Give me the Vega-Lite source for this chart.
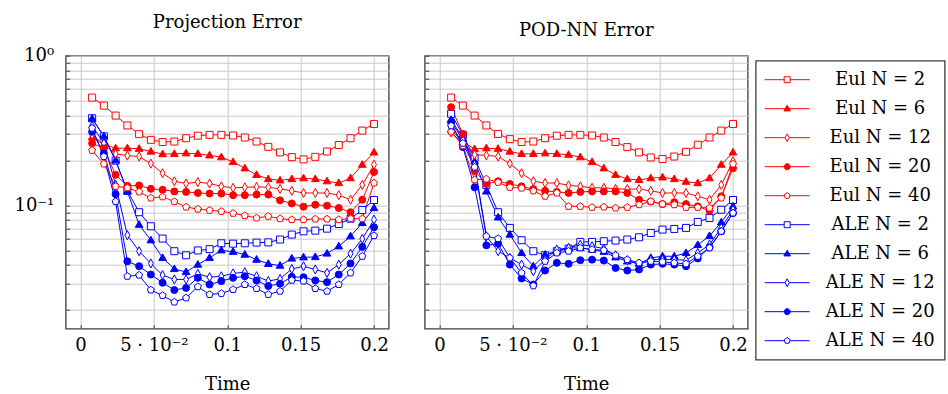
{
"$schema": "https://vega.github.io/schema/vega-lite/v6.json",
"padding": {"left": 12.7, "top": 12.7, "right": 0, "bottom": 0},
"datasets": {
"proj": [
{"series":"Eul N = 2","time":0.008,"error":0.525},{"series":"Eul N = 2","time":0.016,"error":0.464},{"series":"Eul N = 2","time":0.024,"error":0.398},{"series":"Eul N = 2","time":0.032,"error":0.342},{"series":"Eul N = 2","time":0.04,"error":0.299},{"series":"Eul N = 2","time":0.048,"error":0.274},{"series":"Eul N = 2","time":0.056,"error":0.265},{"series":"Eul N = 2","time":0.064,"error":0.267},{"series":"Eul N = 2","time":0.072,"error":0.281},{"series":"Eul N = 2","time":0.08,"error":0.292},{"series":"Eul N = 2","time":0.088,"error":0.296},{"series":"Eul N = 2","time":0.096,"error":0.296},{"series":"Eul N = 2","time":0.104,"error":0.293},{"series":"Eul N = 2","time":0.112,"error":0.284},{"series":"Eul N = 2","time":0.12,"error":0.267},{"series":"Eul N = 2","time":0.128,"error":0.246},{"series":"Eul N = 2","time":0.136,"error":0.226},{"series":"Eul N = 2","time":0.144,"error":0.21},{"series":"Eul N = 2","time":0.152,"error":0.203},{"series":"Eul N = 2","time":0.16,"error":0.211},{"series":"Eul N = 2","time":0.168,"error":0.229},{"series":"Eul N = 2","time":0.176,"error":0.253},{"series":"Eul N = 2","time":0.184,"error":0.281},{"series":"Eul N = 2","time":0.192,"error":0.316},{"series":"Eul N = 2","time":0.2,"error":0.35},
{"series":"Eul N = 6","time":0.008,"error":0.285},{"series":"Eul N = 6","time":0.016,"error":0.255},{"series":"Eul N = 6","time":0.024,"error":0.241},{"series":"Eul N = 6","time":0.032,"error":0.241},{"series":"Eul N = 6","time":0.04,"error":0.239},{"series":"Eul N = 6","time":0.048,"error":0.229},{"series":"Eul N = 6","time":0.056,"error":0.22},{"series":"Eul N = 6","time":0.064,"error":0.221},{"series":"Eul N = 6","time":0.072,"error":0.223},{"series":"Eul N = 6","time":0.08,"error":0.221},{"series":"Eul N = 6","time":0.088,"error":0.216},{"series":"Eul N = 6","time":0.096,"error":0.21},{"series":"Eul N = 6","time":0.104,"error":0.195},{"series":"Eul N = 6","time":0.112,"error":0.177},{"series":"Eul N = 6","time":0.12,"error":0.16},{"series":"Eul N = 6","time":0.128,"error":0.15},{"series":"Eul N = 6","time":0.136,"error":0.147},{"series":"Eul N = 6","time":0.144,"error":0.15},{"series":"Eul N = 6","time":0.152,"error":0.152},{"series":"Eul N = 6","time":0.16,"error":0.15},{"series":"Eul N = 6","time":0.168,"error":0.145},{"series":"Eul N = 6","time":0.176,"error":0.141},{"series":"Eul N = 6","time":0.184,"error":0.152},{"series":"Eul N = 6","time":0.192,"error":0.187},{"series":"Eul N = 6","time":0.2,"error":0.226},
{"series":"Eul N = 12","time":0.008,"error":0.296},{"series":"Eul N = 12","time":0.016,"error":0.255},{"series":"Eul N = 12","time":0.024,"error":0.221},{"series":"Eul N = 12","time":0.032,"error":0.215},{"series":"Eul N = 12","time":0.04,"error":0.212},{"series":"Eul N = 12","time":0.048,"error":0.19},{"series":"Eul N = 12","time":0.056,"error":0.164},{"series":"Eul N = 12","time":0.064,"error":0.145},{"series":"Eul N = 12","time":0.072,"error":0.14},{"series":"Eul N = 12","time":0.08,"error":0.143},{"series":"Eul N = 12","time":0.088,"error":0.14},{"series":"Eul N = 12","time":0.096,"error":0.134},{"series":"Eul N = 12","time":0.104,"error":0.131},{"series":"Eul N = 12","time":0.112,"error":0.132},{"series":"Eul N = 12","time":0.12,"error":0.133},{"series":"Eul N = 12","time":0.128,"error":0.132},{"series":"Eul N = 12","time":0.136,"error":0.129},{"series":"Eul N = 12","time":0.144,"error":0.125},{"series":"Eul N = 12","time":0.152,"error":0.121},{"series":"Eul N = 12","time":0.16,"error":0.121},{"series":"Eul N = 12","time":0.168,"error":0.121},{"series":"Eul N = 12","time":0.176,"error":0.117},{"series":"Eul N = 12","time":0.184,"error":0.109},{"series":"Eul N = 12","time":0.192,"error":0.137},{"series":"Eul N = 12","time":0.2,"error":0.187},
{"series":"Eul N = 20","time":0.008,"error":0.26},{"series":"Eul N = 20","time":0.016,"error":0.24},{"series":"Eul N = 20","time":0.024,"error":0.16},{"series":"Eul N = 20","time":0.032,"error":0.135},{"series":"Eul N = 20","time":0.04,"error":0.136},{"series":"Eul N = 20","time":0.048,"error":0.129},{"series":"Eul N = 20","time":0.056,"error":0.127},{"series":"Eul N = 20","time":0.064,"error":0.124},{"series":"Eul N = 20","time":0.072,"error":0.123},{"series":"Eul N = 20","time":0.08,"error":0.121},{"series":"Eul N = 20","time":0.088,"error":0.12},{"series":"Eul N = 20","time":0.096,"error":0.12},{"series":"Eul N = 20","time":0.104,"error":0.117},{"series":"Eul N = 20","time":0.112,"error":0.117},{"series":"Eul N = 20","time":0.12,"error":0.118},{"series":"Eul N = 20","time":0.128,"error":0.118},{"series":"Eul N = 20","time":0.136,"error":0.108},{"series":"Eul N = 20","time":0.144,"error":0.103},{"series":"Eul N = 20","time":0.152,"error":0.098},{"series":"Eul N = 20","time":0.16,"error":0.101},{"series":"Eul N = 20","time":0.168,"error":0.0996},{"series":"Eul N = 20","time":0.176,"error":0.096},{"series":"Eul N = 20","time":0.184,"error":0.09},{"series":"Eul N = 20","time":0.192,"error":0.109},{"series":"Eul N = 20","time":0.2,"error":0.167},
{"series":"Eul N = 40","time":0.008,"error":0.233},{"series":"Eul N = 40","time":0.016,"error":0.189},{"series":"Eul N = 40","time":0.024,"error":0.134},{"series":"Eul N = 40","time":0.032,"error":0.131},{"series":"Eul N = 40","time":0.04,"error":0.123},{"series":"Eul N = 40","time":0.048,"error":0.112},{"series":"Eul N = 40","time":0.056,"error":0.114},{"series":"Eul N = 40","time":0.064,"error":0.106},{"series":"Eul N = 40","time":0.072,"error":0.0975},{"series":"Eul N = 40","time":0.08,"error":0.0944},{"series":"Eul N = 40","time":0.088,"error":0.0927},{"series":"Eul N = 40","time":0.096,"error":0.0912},{"series":"Eul N = 40","time":0.104,"error":0.0885},{"series":"Eul N = 40","time":0.112,"error":0.0854},{"series":"Eul N = 40","time":0.12,"error":0.0824},{"series":"Eul N = 40","time":0.128,"error":0.0845},{"series":"Eul N = 40","time":0.136,"error":0.0815},{"series":"Eul N = 40","time":0.144,"error":0.0803},{"series":"Eul N = 40","time":0.152,"error":0.0803},{"series":"Eul N = 40","time":0.16,"error":0.0811},{"series":"Eul N = 40","time":0.168,"error":0.0811},{"series":"Eul N = 40","time":0.176,"error":0.0803},{"series":"Eul N = 40","time":0.184,"error":0.0815},{"series":"Eul N = 40","time":0.192,"error":0.0815},{"series":"Eul N = 40","time":0.2,"error":0.141},
{"series":"ALE N = 2","time":0.008,"error":0.382},{"series":"ALE N = 2","time":0.016,"error":0.289},{"series":"ALE N = 2","time":0.024,"error":0.199},{"series":"ALE N = 2","time":0.032,"error":0.125},{"series":"ALE N = 2","time":0.04,"error":0.09},{"series":"ALE N = 2","time":0.048,"error":0.0725},{"series":"ALE N = 2","time":0.056,"error":0.06},{"series":"ALE N = 2","time":0.064,"error":0.0494},{"series":"ALE N = 2","time":0.072,"error":0.0464},{"series":"ALE N = 2","time":0.08,"error":0.05},{"series":"ALE N = 2","time":0.088,"error":0.051},{"series":"ALE N = 2","time":0.096,"error":0.0558},{"series":"ALE N = 2","time":0.104,"error":0.0555},{"series":"ALE N = 2","time":0.112,"error":0.0558},{"series":"ALE N = 2","time":0.12,"error":0.0564},{"series":"ALE N = 2","time":0.128,"error":0.0566},{"series":"ALE N = 2","time":0.136,"error":0.0591},{"series":"ALE N = 2","time":0.144,"error":0.0638},{"series":"ALE N = 2","time":0.152,"error":0.0671},{"series":"ALE N = 2","time":0.16,"error":0.0678},{"series":"ALE N = 2","time":0.168,"error":0.0699},{"series":"ALE N = 2","time":0.176,"error":0.0751},{"series":"ALE N = 2","time":0.184,"error":0.0815},{"series":"ALE N = 2","time":0.192,"error":0.0931},{"series":"ALE N = 2","time":0.2,"error":0.1086},
{"series":"ALE N = 6","time":0.008,"error":0.38},{"series":"ALE N = 6","time":0.016,"error":0.29},{"series":"ALE N = 6","time":0.024,"error":0.2},{"series":"ALE N = 6","time":0.032,"error":0.124},{"series":"ALE N = 6","time":0.04,"error":0.0743},{"series":"ALE N = 6","time":0.048,"error":0.0585},{"series":"ALE N = 6","time":0.056,"error":0.0446},{"series":"ALE N = 6","time":0.064,"error":0.0376},{"series":"ALE N = 6","time":0.072,"error":0.0359},{"series":"ALE N = 6","time":0.08,"error":0.0402},{"series":"ALE N = 6","time":0.088,"error":0.0446},{"series":"ALE N = 6","time":0.096,"error":0.0501},{"series":"ALE N = 6","time":0.104,"error":0.049},{"series":"ALE N = 6","time":0.112,"error":0.0469},{"series":"ALE N = 6","time":0.12,"error":0.0434},{"series":"ALE N = 6","time":0.128,"error":0.0407},{"series":"ALE N = 6","time":0.136,"error":0.0396},{"series":"ALE N = 6","time":0.144,"error":0.0442},{"series":"ALE N = 6","time":0.152,"error":0.045},{"series":"ALE N = 6","time":0.16,"error":0.0452},{"series":"ALE N = 6","time":0.168,"error":0.0477},{"series":"ALE N = 6","time":0.176,"error":0.0533},{"series":"ALE N = 6","time":0.184,"error":0.0622},{"series":"ALE N = 6","time":0.192,"error":0.0763},{"series":"ALE N = 6","time":0.2,"error":0.096},
{"series":"ALE N = 12","time":0.008,"error":0.34},{"series":"ALE N = 12","time":0.016,"error":0.26},{"series":"ALE N = 12","time":0.024,"error":0.137},{"series":"ALE N = 12","time":0.032,"error":0.0632},{"series":"ALE N = 12","time":0.04,"error":0.0494},{"series":"ALE N = 12","time":0.048,"error":0.0409},{"series":"ALE N = 12","time":0.056,"error":0.0342},{"series":"ALE N = 12","time":0.064,"error":0.032},{"series":"ALE N = 12","time":0.072,"error":0.032},{"series":"ALE N = 12","time":0.08,"error":0.0349},{"series":"ALE N = 12","time":0.088,"error":0.0331},{"series":"ALE N = 12","time":0.096,"error":0.0336},{"series":"ALE N = 12","time":0.104,"error":0.0351},{"series":"ALE N = 12","time":0.112,"error":0.0358},{"series":"ALE N = 12","time":0.12,"error":0.0336},{"series":"ALE N = 12","time":0.128,"error":0.0312},{"series":"ALE N = 12","time":0.136,"error":0.0323},{"series":"ALE N = 12","time":0.144,"error":0.0376},{"series":"ALE N = 12","time":0.152,"error":0.0392},{"series":"ALE N = 12","time":0.16,"error":0.0373},{"series":"ALE N = 12","time":0.168,"error":0.0354},{"series":"ALE N = 12","time":0.176,"error":0.0402},{"series":"ALE N = 12","time":0.184,"error":0.0476},{"series":"ALE N = 12","time":0.192,"error":0.0597},{"series":"ALE N = 12","time":0.2,"error":0.0803},
{"series":"ALE N = 20","time":0.008,"error":0.31},{"series":"ALE N = 20","time":0.016,"error":0.223},{"series":"ALE N = 20","time":0.024,"error":0.119},{"series":"ALE N = 20","time":0.032,"error":0.0423},{"series":"ALE N = 20","time":0.04,"error":0.0392},{"series":"ALE N = 20","time":0.048,"error":0.0345},{"series":"ALE N = 20","time":0.056,"error":0.0304},{"series":"ALE N = 20","time":0.064,"error":0.0272},{"series":"ALE N = 20","time":0.072,"error":0.0281},{"series":"ALE N = 20","time":0.08,"error":0.0328},{"series":"ALE N = 20","time":0.088,"error":0.0296},{"series":"ALE N = 20","time":0.096,"error":0.0312},{"series":"ALE N = 20","time":0.104,"error":0.0328},{"series":"ALE N = 20","time":0.112,"error":0.0336},{"series":"ALE N = 20","time":0.12,"error":0.0315},{"series":"ALE N = 20","time":0.128,"error":0.0289},{"series":"ALE N = 20","time":0.136,"error":0.03},{"series":"ALE N = 20","time":0.144,"error":0.0333},{"series":"ALE N = 20","time":0.152,"error":0.0331},{"series":"ALE N = 20","time":0.16,"error":0.0315},{"series":"ALE N = 20","time":0.168,"error":0.0307},{"series":"ALE N = 20","time":0.176,"error":0.0345},{"series":"ALE N = 20","time":0.184,"error":0.0409},{"series":"ALE N = 20","time":0.192,"error":0.0528},{"series":"ALE N = 20","time":0.2,"error":0.0714},
{"series":"ALE N = 40","time":0.008,"error":0.328},{"series":"ALE N = 40","time":0.016,"error":0.212},{"series":"ALE N = 40","time":0.024,"error":0.106},{"series":"ALE N = 40","time":0.032,"error":0.0336},{"series":"ALE N = 40","time":0.04,"error":0.0342},{"series":"ALE N = 40","time":0.048,"error":0.0272},{"series":"ALE N = 40","time":0.056,"error":0.025},{"series":"ALE N = 40","time":0.064,"error":0.0226},{"series":"ALE N = 40","time":0.072,"error":0.0241},{"series":"ALE N = 40","time":0.08,"error":0.0286},{"series":"ALE N = 40","time":0.088,"error":0.0254},{"series":"ALE N = 40","time":0.096,"error":0.0258},{"series":"ALE N = 40","time":0.104,"error":0.0274},{"series":"ALE N = 40","time":0.112,"error":0.0296},{"series":"ALE N = 40","time":0.12,"error":0.0278},{"series":"ALE N = 40","time":0.128,"error":0.0254},{"series":"ALE N = 40","time":0.136,"error":0.0267},{"series":"ALE N = 40","time":0.144,"error":0.0316},{"series":"ALE N = 40","time":0.152,"error":0.0312},{"series":"ALE N = 40","time":0.16,"error":0.0278},{"series":"ALE N = 40","time":0.168,"error":0.0267},{"series":"ALE N = 40","time":0.176,"error":0.0296},{"series":"ALE N = 40","time":0.184,"error":0.0354},{"series":"ALE N = 40","time":0.192,"error":0.0457},{"series":"ALE N = 40","time":0.2,"error":0.0628}
],
"pod": [
{"series":"Eul N = 2","time":0.008,"error":0.525},{"series":"Eul N = 2","time":0.016,"error":0.464},{"series":"Eul N = 2","time":0.024,"error":0.398},{"series":"Eul N = 2","time":0.032,"error":0.342},{"series":"Eul N = 2","time":0.04,"error":0.3},{"series":"Eul N = 2","time":0.048,"error":0.277},{"series":"Eul N = 2","time":0.056,"error":0.265},{"series":"Eul N = 2","time":0.064,"error":0.267},{"series":"Eul N = 2","time":0.072,"error":0.281},{"series":"Eul N = 2","time":0.08,"error":0.292},{"series":"Eul N = 2","time":0.088,"error":0.296},{"series":"Eul N = 2","time":0.096,"error":0.296},{"series":"Eul N = 2","time":0.104,"error":0.293},{"series":"Eul N = 2","time":0.112,"error":0.284},{"series":"Eul N = 2","time":0.12,"error":0.265},{"series":"Eul N = 2","time":0.128,"error":0.245},{"series":"Eul N = 2","time":0.136,"error":0.226},{"series":"Eul N = 2","time":0.144,"error":0.209},{"series":"Eul N = 2","time":0.152,"error":0.204},{"series":"Eul N = 2","time":0.16,"error":0.212},{"series":"Eul N = 2","time":0.168,"error":0.228},{"series":"Eul N = 2","time":0.176,"error":0.254},{"series":"Eul N = 2","time":0.184,"error":0.284},{"series":"Eul N = 2","time":0.192,"error":0.316},{"series":"Eul N = 2","time":0.2,"error":0.35},
{"series":"Eul N = 6","time":0.008,"error":0.32},{"series":"Eul N = 6","time":0.016,"error":0.265},{"series":"Eul N = 6","time":0.024,"error":0.238},{"series":"Eul N = 6","time":0.032,"error":0.241},{"series":"Eul N = 6","time":0.04,"error":0.239},{"series":"Eul N = 6","time":0.048,"error":0.229},{"series":"Eul N = 6","time":0.056,"error":0.221},{"series":"Eul N = 6","time":0.064,"error":0.221},{"series":"Eul N = 6","time":0.072,"error":0.223},{"series":"Eul N = 6","time":0.08,"error":0.221},{"series":"Eul N = 6","time":0.088,"error":0.218},{"series":"Eul N = 6","time":0.096,"error":0.21},{"series":"Eul N = 6","time":0.104,"error":0.195},{"series":"Eul N = 6","time":0.112,"error":0.177},{"series":"Eul N = 6","time":0.12,"error":0.16},{"series":"Eul N = 6","time":0.128,"error":0.15},{"series":"Eul N = 6","time":0.136,"error":0.148},{"series":"Eul N = 6","time":0.144,"error":0.152},{"series":"Eul N = 6","time":0.152,"error":0.154},{"series":"Eul N = 6","time":0.16,"error":0.15},{"series":"Eul N = 6","time":0.168,"error":0.144},{"series":"Eul N = 6","time":0.176,"error":0.141},{"series":"Eul N = 6","time":0.184,"error":0.152},{"series":"Eul N = 6","time":0.192,"error":0.187},{"series":"Eul N = 6","time":0.2,"error":0.226},
{"series":"Eul N = 12","time":0.008,"error":0.307},{"series":"Eul N = 12","time":0.016,"error":0.26},{"series":"Eul N = 12","time":0.024,"error":0.218},{"series":"Eul N = 12","time":0.032,"error":0.216},{"series":"Eul N = 12","time":0.04,"error":0.212},{"series":"Eul N = 12","time":0.048,"error":0.19},{"series":"Eul N = 12","time":0.056,"error":0.164},{"series":"Eul N = 12","time":0.064,"error":0.145},{"series":"Eul N = 12","time":0.072,"error":0.141},{"series":"Eul N = 12","time":0.08,"error":0.141},{"series":"Eul N = 12","time":0.088,"error":0.136},{"series":"Eul N = 12","time":0.096,"error":0.134},{"series":"Eul N = 12","time":0.104,"error":0.131},{"series":"Eul N = 12","time":0.112,"error":0.131},{"series":"Eul N = 12","time":0.12,"error":0.129},{"series":"Eul N = 12","time":0.128,"error":0.1285},{"series":"Eul N = 12","time":0.136,"error":0.1285},{"series":"Eul N = 12","time":0.144,"error":0.125},{"series":"Eul N = 12","time":0.152,"error":0.121},{"series":"Eul N = 12","time":0.16,"error":0.121},{"series":"Eul N = 12","time":0.168,"error":0.121},{"series":"Eul N = 12","time":0.176,"error":0.115},{"series":"Eul N = 12","time":0.184,"error":0.109},{"series":"Eul N = 12","time":0.192,"error":0.137},{"series":"Eul N = 12","time":0.2,"error":0.197},
{"series":"Eul N = 20","time":0.008,"error":0.453},{"series":"Eul N = 20","time":0.016,"error":0.3},{"series":"Eul N = 20","time":0.024,"error":0.17},{"series":"Eul N = 20","time":0.032,"error":0.139},{"series":"Eul N = 20","time":0.04,"error":0.145},{"series":"Eul N = 20","time":0.048,"error":0.139},{"series":"Eul N = 20","time":0.056,"error":0.134},{"series":"Eul N = 20","time":0.064,"error":0.1285},{"series":"Eul N = 20","time":0.072,"error":0.125},{"series":"Eul N = 20","time":0.08,"error":0.123},{"series":"Eul N = 20","time":0.088,"error":0.121},{"series":"Eul N = 20","time":0.096,"error":0.123},{"series":"Eul N = 20","time":0.104,"error":0.124},{"series":"Eul N = 20","time":0.112,"error":0.124},{"series":"Eul N = 20","time":0.12,"error":0.124},{"series":"Eul N = 20","time":0.128,"error":0.121},{"series":"Eul N = 20","time":0.136,"error":0.109},{"series":"Eul N = 20","time":0.144,"error":0.106},{"series":"Eul N = 20","time":0.152,"error":0.102},{"series":"Eul N = 20","time":0.16,"error":0.105},{"series":"Eul N = 20","time":0.168,"error":0.102},{"series":"Eul N = 20","time":0.176,"error":0.0985},{"series":"Eul N = 20","time":0.184,"error":0.092},{"series":"Eul N = 20","time":0.192,"error":0.115},{"series":"Eul N = 20","time":0.2,"error":0.177},
{"series":"Eul N = 40","time":0.008,"error":0.31},{"series":"Eul N = 40","time":0.016,"error":0.25},{"series":"Eul N = 40","time":0.024,"error":0.148},{"series":"Eul N = 40","time":0.032,"error":0.15},{"series":"Eul N = 40","time":0.04,"error":0.1425},{"series":"Eul N = 40","time":0.048,"error":0.132},{"series":"Eul N = 40","time":0.056,"error":0.1305},{"series":"Eul N = 40","time":0.064,"error":0.125},{"series":"Eul N = 40","time":0.072,"error":0.115},{"series":"Eul N = 40","time":0.08,"error":0.121},{"series":"Eul N = 40","time":0.088,"error":0.0985},{"series":"Eul N = 40","time":0.096,"error":0.0985},{"series":"Eul N = 40","time":0.104,"error":0.097},{"series":"Eul N = 40","time":0.112,"error":0.0975},{"series":"Eul N = 40","time":0.12,"error":0.096},{"series":"Eul N = 40","time":0.128,"error":0.097},{"series":"Eul N = 40","time":0.136,"error":0.101},{"series":"Eul N = 40","time":0.144,"error":0.1064},{"series":"Eul N = 40","time":0.152,"error":0.102},{"series":"Eul N = 40","time":0.16,"error":0.101},{"series":"Eul N = 40","time":0.168,"error":0.097},{"series":"Eul N = 40","time":0.176,"error":0.097},{"series":"Eul N = 40","time":0.184,"error":0.096},{"series":"Eul N = 40","time":0.192,"error":0.112},{"series":"Eul N = 40","time":0.2,"error":0.189},
{"series":"ALE N = 2","time":0.008,"error":0.409},{"series":"ALE N = 2","time":0.016,"error":0.296},{"series":"ALE N = 2","time":0.024,"error":0.207},{"series":"ALE N = 2","time":0.032,"error":0.137},{"series":"ALE N = 2","time":0.04,"error":0.09},{"series":"ALE N = 2","time":0.048,"error":0.0707},{"series":"ALE N = 2","time":0.056,"error":0.0585},{"series":"ALE N = 2","time":0.064,"error":0.0494},{"series":"ALE N = 2","time":0.072,"error":0.0464},{"series":"ALE N = 2","time":0.08,"error":0.0494},{"series":"ALE N = 2","time":0.088,"error":0.0514},{"series":"ALE N = 2","time":0.096,"error":0.057},{"series":"ALE N = 2","time":0.104,"error":0.057},{"series":"ALE N = 2","time":0.112,"error":0.0576},{"series":"ALE N = 2","time":0.12,"error":0.0582},{"series":"ALE N = 2","time":0.128,"error":0.0591},{"series":"ALE N = 2","time":0.136,"error":0.0612},{"series":"ALE N = 2","time":0.144,"error":0.0654},{"series":"ALE N = 2","time":0.152,"error":0.0689},{"series":"ALE N = 2","time":0.16,"error":0.0696},{"series":"ALE N = 2","time":0.168,"error":0.0707},{"series":"ALE N = 2","time":0.176,"error":0.0775},{"series":"ALE N = 2","time":0.184,"error":0.0824},{"series":"ALE N = 2","time":0.192,"error":0.0935},{"series":"ALE N = 2","time":0.2,"error":0.1086},
{"series":"ALE N = 6","time":0.008,"error":0.373},{"series":"ALE N = 6","time":0.016,"error":0.282},{"series":"ALE N = 6","time":0.024,"error":0.197},{"series":"ALE N = 6","time":0.032,"error":0.124},{"series":"ALE N = 6","time":0.04,"error":0.0832},{"series":"ALE N = 6","time":0.048,"error":0.0638},{"series":"ALE N = 6","time":0.056,"error":0.0481},{"series":"ALE N = 6","time":0.064,"error":0.0392},{"series":"ALE N = 6","time":0.072,"error":0.0469},{"series":"ALE N = 6","time":0.08,"error":0.0494},{"series":"ALE N = 6","time":0.088,"error":0.052},{"series":"ALE N = 6","time":0.096,"error":0.052},{"series":"ALE N = 6","time":0.104,"error":0.0507},{"series":"ALE N = 6","time":0.112,"error":0.049},{"series":"ALE N = 6","time":0.12,"error":0.045},{"series":"ALE N = 6","time":0.128,"error":0.0423},{"series":"ALE N = 6","time":0.136,"error":0.0409},{"series":"ALE N = 6","time":0.144,"error":0.0446},{"series":"ALE N = 6","time":0.152,"error":0.0457},{"series":"ALE N = 6","time":0.16,"error":0.0457},{"series":"ALE N = 6","time":0.168,"error":0.0481},{"series":"ALE N = 6","time":0.176,"error":0.0544},{"series":"ALE N = 6","time":0.184,"error":0.0625},{"series":"ALE N = 6","time":0.192,"error":0.0771},{"series":"ALE N = 6","time":0.2,"error":0.0985},
{"series":"ALE N = 12","time":0.008,"error":0.363},{"series":"ALE N = 12","time":0.016,"error":0.274},{"series":"ALE N = 12","time":0.024,"error":0.187},{"series":"ALE N = 12","time":0.032,"error":0.0622},{"series":"ALE N = 12","time":0.04,"error":0.0494},{"series":"ALE N = 12","time":0.048,"error":0.0446},{"series":"ALE N = 12","time":0.056,"error":0.0402},{"series":"ALE N = 12","time":0.064,"error":0.0363},{"series":"ALE N = 12","time":0.072,"error":0.0434},{"series":"ALE N = 12","time":0.08,"error":0.0507},{"series":"ALE N = 12","time":0.088,"error":0.052},{"series":"ALE N = 12","time":0.096,"error":0.0547},{"series":"ALE N = 12","time":0.104,"error":0.0533},{"series":"ALE N = 12","time":0.112,"error":0.0514},{"series":"ALE N = 12","time":0.12,"error":0.0464},{"series":"ALE N = 12","time":0.128,"error":0.043},{"series":"ALE N = 12","time":0.136,"error":0.0402},{"series":"ALE N = 12","time":0.144,"error":0.0434},{"series":"ALE N = 12","time":0.152,"error":0.0434},{"series":"ALE N = 12","time":0.16,"error":0.0434},{"series":"ALE N = 12","time":0.168,"error":0.043},{"series":"ALE N = 12","time":0.176,"error":0.0481},{"series":"ALE N = 12","time":0.184,"error":0.0547},{"series":"ALE N = 12","time":0.192,"error":0.0707},{"series":"ALE N = 12","time":0.2,"error":0.0935},
{"series":"ALE N = 20","time":0.008,"error":0.359},{"series":"ALE N = 20","time":0.016,"error":0.245},{"series":"ALE N = 20","time":0.024,"error":0.132},{"series":"ALE N = 20","time":0.032,"error":0.0541},{"series":"ALE N = 20","time":0.04,"error":0.0555},{"series":"ALE N = 20","time":0.048,"error":0.0402},{"series":"ALE N = 20","time":0.056,"error":0.0325},{"series":"ALE N = 20","time":0.064,"error":0.0296},{"series":"ALE N = 20","time":0.072,"error":0.0367},{"series":"ALE N = 20","time":0.08,"error":0.0413},{"series":"ALE N = 20","time":0.088,"error":0.0407},{"series":"ALE N = 20","time":0.096,"error":0.043},{"series":"ALE N = 20","time":0.104,"error":0.0434},{"series":"ALE N = 20","time":0.112,"error":0.0428},{"series":"ALE N = 20","time":0.12,"error":0.0382},{"series":"ALE N = 20","time":0.128,"error":0.0367},{"series":"ALE N = 20","time":0.136,"error":0.0373},{"series":"ALE N = 20","time":0.144,"error":0.0402},{"series":"ALE N = 20","time":0.152,"error":0.0407},{"series":"ALE N = 20","time":0.16,"error":0.0402},{"series":"ALE N = 20","time":0.168,"error":0.0392},{"series":"ALE N = 20","time":0.176,"error":0.0442},{"series":"ALE N = 20","time":0.184,"error":0.0525},{"series":"ALE N = 20","time":0.192,"error":0.0671},{"series":"ALE N = 20","time":0.2,"error":0.0889},
{"series":"ALE N = 40","time":0.008,"error":0.34},{"series":"ALE N = 40","time":0.016,"error":0.26},{"series":"ALE N = 40","time":0.024,"error":0.18},{"series":"ALE N = 40","time":0.032,"error":0.0622},{"series":"ALE N = 40","time":0.04,"error":0.06},{"series":"ALE N = 40","time":0.048,"error":0.0446},{"series":"ALE N = 40","time":0.056,"error":0.0354},{"series":"ALE N = 40","time":0.064,"error":0.029},{"series":"ALE N = 40","time":0.072,"error":0.0423},{"series":"ALE N = 40","time":0.08,"error":0.0481},{"series":"ALE N = 40","time":0.088,"error":0.0494},{"series":"ALE N = 40","time":0.096,"error":0.052},{"series":"ALE N = 40","time":0.104,"error":0.0507},{"series":"ALE N = 40","time":0.112,"error":0.0501},{"series":"ALE N = 40","time":0.12,"error":0.0464},{"series":"ALE N = 40","time":0.128,"error":0.0434},{"series":"ALE N = 40","time":0.136,"error":0.0413},{"series":"ALE N = 40","time":0.144,"error":0.0423},{"series":"ALE N = 40","time":0.152,"error":0.0419},{"series":"ALE N = 40","time":0.16,"error":0.0413},{"series":"ALE N = 40","time":0.168,"error":0.0407},{"series":"ALE N = 40","time":0.176,"error":0.0457},{"series":"ALE N = 40","time":0.184,"error":0.052},{"series":"ALE N = 40","time":0.192,"error":0.0671},{"series":"ALE N = 40","time":0.2,"error":0.0889}
]
},
"spacing": 36,
"bounds": "flush",
"resolve": {"scale": {"stroke": "shared", "fill": "shared", "shape": "shared"}, "legend": {"stroke": "shared", "fill": "shared", "shape": "shared"}},
"hconcat": [
{
"width": 323, "height": 273,
"title": {"text": "Projection Error"},
"data": {"name": "proj"},
"encoding": {
 "x": {"field": "time", "type": "quantitative", "scale": {"domain": [-0.01, 0.21], "nice": false, "zero": false}, "axis": {"values": [0, 0.05, 0.1, 0.15, 0.2], "labelExpr": "datum.value == 0.05 ? '5 · 10⁻²' : format(datum.value, '')", "title": "Time"}},
 "y": {"field": "error", "type": "quantitative", "scale": {"type": "log", "domain": [0.015, 1], "nice": false}, "axis": {"values": [0.02,0.03,0.04,0.05,0.06,0.07,0.08,0.09,0.1,0.2,0.3,0.4,0.5,0.6,0.7,0.8,0.9,1], "labelExpr": "datum.value == 1 ? '10⁰' : (datum.value == 0.1 ? '10⁻¹' : '')", "title": null}}
},
"layer": [
 {"mark": {"type": "line", "strokeWidth": 1}, "encoding": {
   "stroke": {"field": "series", "type": "nominal", "scale": {"domain": ["Eul N = 2","Eul N = 6","Eul N = 12","Eul N = 20","Eul N = 40","ALE N = 2","ALE N = 6","ALE N = 12","ALE N = 20","ALE N = 40"], "range": ["#ff0000","#ff0000","#ff0000","#ff0000","#ff0000","#0000ff","#0000ff","#0000ff","#0000ff","#0000ff"]}, "legend": {"title": null}}
 }},
 {"transform": [{"filter": {"field": "series", "oneOf": ["Eul N = 2", "ALE N = 2"]}}],
  "mark": {"type": "point", "shape": "M-1,-1H1V1H-1Z", "filled": true, "opacity": 1, "size": 49, "strokeWidth": 1},
  "encoding": {"stroke": {"field": "series", "type": "nominal", "legend": {"title": null}},
   "fill": {"field": "series", "type": "nominal", "scale": {"domain": ["Eul N = 2","Eul N = 6","Eul N = 12","Eul N = 20","Eul N = 40","ALE N = 2","ALE N = 6","ALE N = 12","ALE N = 20","ALE N = 40"], "range": ["#ffffff","#ff0000","#ffffff","#ff0000","#ffffff","#ffffff","#0000ff","#ffffff","#0000ff","#ffffff"]}, "legend": {"title": null}}}},
 {"transform": [{"filter": {"field": "series", "oneOf": ["Eul N = 6", "ALE N = 6"]}}],
  "mark": {"type": "point", "shape": "M0,-1.15L1.1,0.75L-1.1,0.75Z", "filled": true, "opacity": 1, "size": 49, "strokeWidth": 1},
  "encoding": {"stroke": {"field": "series", "type": "nominal", "legend": {"title": null}}, "fill": {"field": "series", "type": "nominal", "legend": {"title": null}}}},
 {"transform": [{"filter": {"field": "series", "oneOf": ["Eul N = 12", "ALE N = 12"]}}],
  "mark": {"type": "point", "shape": "M0,-1.3L0.7,0L0,1.3L-0.7,0Z", "filled": true, "opacity": 1, "size": 49, "strokeWidth": 1},
  "encoding": {"stroke": {"field": "series", "type": "nominal", "legend": {"title": null}}, "fill": {"field": "series", "type": "nominal", "legend": {"title": null}}}},
 {"transform": [{"filter": {"field": "series", "oneOf": ["Eul N = 20", "ALE N = 20"]}}],
  "mark": {"type": "point", "shape": "circle", "filled": true, "opacity": 1, "size": 49, "strokeWidth": 1},
  "encoding": {"stroke": {"field": "series", "type": "nominal", "legend": {"title": null}}, "fill": {"field": "series", "type": "nominal", "legend": {"title": null}}}},
 {"transform": [{"filter": {"field": "series", "oneOf": ["Eul N = 40", "ALE N = 40"]}}],
  "mark": {"type": "point", "shape": "M0,-1.05L1,-0.32L0.62,0.85L-0.62,0.85L-1,-0.32Z", "filled": true, "opacity": 1, "size": 49, "strokeWidth": 1},
  "encoding": {"stroke": {"field": "series", "type": "nominal", "legend": {"title": null}}, "fill": {"field": "series", "type": "nominal", "legend": {"title": null}}}},
 {"mark": {"type": "point", "opacity": 0, "size": 36},
  "encoding": {"shape": {"field": "series", "type": "nominal", "scale": {"domain": ["Eul N = 2","Eul N = 6","Eul N = 12","Eul N = 20","Eul N = 40","ALE N = 2","ALE N = 6","ALE N = 12","ALE N = 20","ALE N = 40"], "range": ["M-7.5,0H-1M1,0H7.5M-1,-1H1V1H-1Z","M-7.5,0H7.5M0,-1.15L1.1,0.75L-1.1,0.75Z","M-7.5,0H-0.7M0.7,0H7.5M0,-1.3L0.7,0L0,1.3L-0.7,0Z","M-7.5,0H7.5M1,0A1,1,0,1,1,-1,0A1,1,0,1,1,1,0Z","M-7.5,0H-1M1,0H7.5M0,-1.05L1,-0.32L0.62,0.85L-0.62,0.85L-1,-0.32Z","M-7.5,0H-1M1,0H7.5M-1,-1H1V1H-1Z","M-7.5,0H7.5M0,-1.15L1.1,0.75L-1.1,0.75Z","M-7.5,0H-0.7M0.7,0H7.5M0,-1.3L0.7,0L0,1.3L-0.7,0Z","M-7.5,0H7.5M1,0A1,1,0,1,1,-1,0A1,1,0,1,1,1,0Z","M-7.5,0H-1M1,0H7.5M0,-1.05L1,-0.32L0.62,0.85L-0.62,0.85L-1,-0.32Z"]}, "legend": {"title": null}}}}
]
},
{
"width": 323, "height": 273,
"title": {"text": "POD-NN Error"},
"data": {"name": "pod"},
"encoding": {
 "x": {"field": "time", "type": "quantitative", "scale": {"domain": [-0.01, 0.21], "nice": false, "zero": false}, "axis": {"values": [0, 0.05, 0.1, 0.15, 0.2], "labelExpr": "datum.value == 0.05 ? '5 · 10⁻²' : format(datum.value, '')", "title": "Time"}},
 "y": {"field": "error", "type": "quantitative", "scale": {"type": "log", "domain": [0.015, 1], "nice": false}, "axis": {"values": [0.02,0.03,0.04,0.05,0.06,0.07,0.08,0.09,0.1,0.2,0.3,0.4,0.5,0.6,0.7,0.8,0.9,1], "labels": false, "title": null}}
},
"layer": [
 {"mark": {"type": "line", "strokeWidth": 1}, "encoding": {
   "stroke": {"field": "series", "type": "nominal", "legend": {"title": null}}
 }},
 {"transform": [{"filter": {"field": "series", "oneOf": ["Eul N = 2", "ALE N = 2"]}}],
  "mark": {"type": "point", "shape": "M-1,-1H1V1H-1Z", "filled": true, "opacity": 1, "size": 49, "strokeWidth": 1},
  "encoding": {"stroke": {"field": "series", "type": "nominal", "legend": {"title": null}}, "fill": {"field": "series", "type": "nominal", "legend": {"title": null}}}},
 {"transform": [{"filter": {"field": "series", "oneOf": ["Eul N = 6", "ALE N = 6"]}}],
  "mark": {"type": "point", "shape": "M0,-1.15L1.1,0.75L-1.1,0.75Z", "filled": true, "opacity": 1, "size": 49, "strokeWidth": 1},
  "encoding": {"stroke": {"field": "series", "type": "nominal", "legend": {"title": null}}, "fill": {"field": "series", "type": "nominal", "legend": {"title": null}}}},
 {"transform": [{"filter": {"field": "series", "oneOf": ["Eul N = 12", "ALE N = 12"]}}],
  "mark": {"type": "point", "shape": "M0,-1.3L0.7,0L0,1.3L-0.7,0Z", "filled": true, "opacity": 1, "size": 49, "strokeWidth": 1},
  "encoding": {"stroke": {"field": "series", "type": "nominal", "legend": {"title": null}}, "fill": {"field": "series", "type": "nominal", "legend": {"title": null}}}},
 {"transform": [{"filter": {"field": "series", "oneOf": ["Eul N = 20", "ALE N = 20"]}}],
  "mark": {"type": "point", "shape": "circle", "filled": true, "opacity": 1, "size": 49, "strokeWidth": 1},
  "encoding": {"stroke": {"field": "series", "type": "nominal", "legend": {"title": null}}, "fill": {"field": "series", "type": "nominal", "legend": {"title": null}}}},
 {"transform": [{"filter": {"field": "series", "oneOf": ["Eul N = 40", "ALE N = 40"]}}],
  "mark": {"type": "point", "shape": "M0,-1.05L1,-0.32L0.62,0.85L-0.62,0.85L-1,-0.32Z", "filled": true, "opacity": 1, "size": 49, "strokeWidth": 1},
  "encoding": {"stroke": {"field": "series", "type": "nominal", "legend": {"title": null}}, "fill": {"field": "series", "type": "nominal", "legend": {"title": null}}}},
 {"mark": {"type": "point", "opacity": 0, "size": 36},
  "encoding": {"shape": {"field": "series", "type": "nominal", "legend": {"title": null}}}}
]
}
],
"config": {
 "font": "DejaVu Serif",
 "view": {"stroke": "#3c3c3c", "strokeWidth": 1.3},
 "axis": {"labelFont": "DejaVu Serif", "labelFontSize": 18, "labelColor": "#000000", "titleFont": "DejaVu Serif", "titleFontSize": 18, "titleFontWeight": "normal", "titleColor": "#000000", "titlePadding": 10, "gridColor": "#c8c8c8", "gridWidth": 1, "gridOpacity": 1, "domain": false, "ticks": true, "tickSize": -4, "tickColor": "#3c3c3c", "tickWidth": 1},
 "axisX": {"titlePadding": 21, "labelPadding": 12},
 "axisY": {"labelPadding": 16},
 "title": {"font": "DejaVu Serif", "fontSize": 18, "fontWeight": "normal", "color": "#000000", "offset": 15},
 "legend": {"orient": "none", "legendX": 690, "legendY": 5, "padding": 10, "rowPadding": 11, "strokeColor": "#3c3c3c", "strokeWidth": 1.3, "labelFont": "DejaVu Serif", "labelFontSize": 18, "labelColor": "#000000", "labelAlign": "center", "labelOffset": 84, "symbolSize": 36, "symbolStrokeWidth": 1, "symbolOffset": 12.5, "symbolOpacity": 1}
}
}
